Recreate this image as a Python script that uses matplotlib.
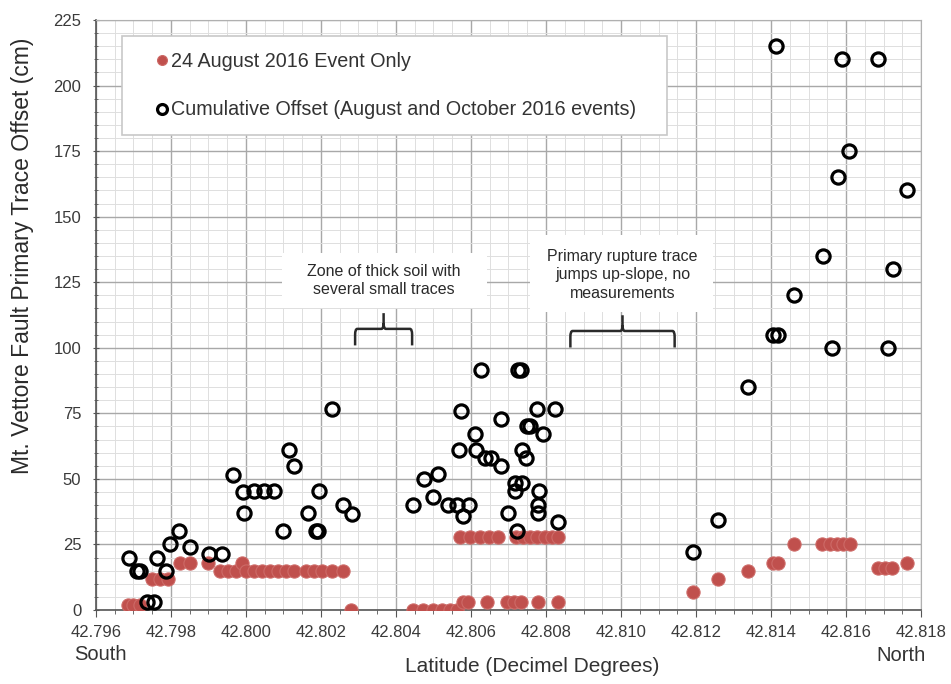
import matplotlib.pyplot as plt
from matplotlib.ticker import MultipleLocator, FormatStrFormatter
from matplotlib.patches import Rectangle, PathPatch
from matplotlib.path import Path

plt.rcParams['font.family'] = ['Liberation Sans', 'DejaVu Sans']

# 24 August 2016 event only (latitude, offset cm)
aug_lat = [42.79685, 42.79700, 42.79718,
           42.79749, 42.79771, 42.79792,
           42.79824, 42.79851, 42.79899,
           42.79931, 42.79952, 42.79973, 42.79989, 42.80000, 42.80021, 42.80043,
           42.80064, 42.80085, 42.80107, 42.80128, 42.80160, 42.80181, 42.80203,
           42.80229, 42.80259, 42.80280,
           42.80445, 42.80472, 42.80499, 42.80523, 42.80544, 42.80563,
           42.80579, 42.80592, 42.80643, 42.80696, 42.80715, 42.80733, 42.80779, 42.80832,
           42.80571, 42.80597, 42.80624, 42.80648, 42.80672, 42.80720, 42.80739,
           42.80757, 42.80776, 42.80797, 42.80816, 42.80832,
           42.81193, 42.81259, 42.81339, 42.81406, 42.81419, 42.81461, 42.81535,
           42.81557, 42.81575, 42.81593, 42.81611, 42.81686, 42.81704, 42.81722, 42.81763]
aug_off = [2, 2, 2,
           12, 12, 12,
           18, 18, 18,
           15, 15, 15, 18, 15, 15, 15,
           15, 15, 15, 15, 15, 15, 15,
           15, 15, 0,
           0, 0, 0, 0, 0, 0,
           3, 3, 3, 3, 3, 3, 3, 3,
           28, 28, 28, 28, 28, 28, 28,
           28, 28, 28, 28, 28,
           7, 12, 15, 18, 18, 25, 25,
           25, 25, 25, 25, 16, 16, 16, 18]

# cumulative offset, August and October 2016 events
cum_lat = [42.79689, 42.79709, 42.79717, 42.79735, 42.79755, 42.79763, 42.79788,
           42.79797, 42.79822, 42.79851, 42.79901, 42.79935, 42.79966, 42.79991,
           42.79995, 42.80021, 42.80048, 42.80075, 42.80098, 42.80114, 42.80129,
           42.80166, 42.80187, 42.80193, 42.80195, 42.80230, 42.80258, 42.80282,
           42.80446, 42.80476, 42.80499, 42.80511, 42.80540, 42.80562, 42.80568,
           42.80573, 42.80579, 42.80595, 42.80611, 42.80613, 42.80627, 42.80637,
           42.80653, 42.80680, 42.80680, 42.80698, 42.80717, 42.80717, 42.80722,
           42.80724, 42.80733, 42.80737, 42.80737, 42.80746, 42.80748, 42.80757,
           42.80775, 42.80778, 42.80778, 42.80781, 42.80793, 42.80824, 42.80833,
           42.81193, 42.81259, 42.81339, 42.81406, 42.81419, 42.81413, 42.81462,
           42.81538, 42.81562, 42.81579, 42.81589, 42.81609, 42.81686, 42.81713,
           42.81724, 42.81763]
cum_off = [20, 15, 15, 3, 3, 20, 15,
           25, 30, 24, 21.5, 21.5, 51.5, 45,
           37, 45.5, 45.5, 45.5, 30, 61, 55,
           37, 30, 30, 45.5, 76.5, 40, 36.5,
           40, 50, 43, 52, 40, 40, 61,
           76, 36, 40, 67, 61, 91.5, 58,
           58, 73, 55, 37, 48.5, 45.5, 30,
           91.5, 91.5, 48.5, 61, 58, 70, 70,
           76.5, 40, 37, 45.5, 67, 76.5, 33.5,
           22, 34.5, 85, 105, 105, 215, 120,
           135, 100, 165, 210, 175, 210, 100,
           130, 160]

# gaps in the measurements along the trace
gap_labels = ['Zone of thick soil with\nseveral small traces',
              'Primary rupture trace\njumps up-slope, no\nmeasurements']
gap_spans = [(42.80291, 42.80443), (42.80865, 42.81143)]
gap_brace_y = [107.2, 106.4]
gap_text_y = [125.6, 127.8]
gap_boxes = [(42.80096, 115.2, 42.80643, 136.2), (42.80757, 113.7, 42.81245, 143.0)]

fig, ax = plt.subplots(figsize=(9.51, 6.84), dpi=100)
fig.subplots_adjust(left=0.1009, right=0.9685, top=0.9708, bottom=0.1082)

ax.plot(aug_lat, aug_off, 'o', color='#c0504d', ms=9.5, mec='#cd6a67', mew=0.8,
        zorder=3, label='24 August 2016 Event Only')
ax.plot(cum_lat, cum_off, 'o', mfc='none', mec='black', ms=9.5, mew=2.3,
        zorder=4, label='Cumulative Offset (August and October 2016 events)')

ax.set_xlim(42.796, 42.818)
ax.set_ylim(0, 225)
ax.xaxis.set_major_locator(MultipleLocator(0.002))
ax.xaxis.set_minor_locator(MultipleLocator(0.0005))
ax.xaxis.set_major_formatter(FormatStrFormatter('%.3f'))
ax.yaxis.set_major_locator(MultipleLocator(25))
ax.yaxis.set_minor_locator(MultipleLocator(5))

ax.set_axisbelow(True)
ax.grid(which='major', color='#a8a8a8', lw=1.0)
ax.grid(which='minor', color='#dedede', lw=0.7)

for s in ['top', 'right']:
    ax.spines[s].set_color('#b0b0b0')
for s in ['left', 'bottom']:
    ax.spines[s].set_color('#555555')
    ax.spines[s].set_linewidth(1.2)

ax.tick_params(axis='both', which='major', labelsize=12, colors='#555555',
               labelcolor='#3a3a3a', length=5)
ax.tick_params(axis='both', which='minor', colors='#555555', length=3)
ax.tick_params(axis='y', which='both', direction='inout', pad=8)
ax.tick_params(axis='x', which='both', direction='out', pad=6)

ax.set_ylabel('Mt. Vettore Fault Primary Trace Offset (cm)', fontsize=16.5, color='#2a2a2a')
ax.yaxis.set_label_coords(-0.075, 0.600)
ax.set_xlabel('Latitude (Decimel Degrees)', fontsize=15, color='#333333')
ax.xaxis.set_label_coords(0.5285, -0.080)

ax.text(-0.026, -0.075, 'South', transform=ax.transAxes, fontsize=14.5,
        color='#333333', ha='left', va='center')
ax.text(1.005, -0.077, 'North', transform=ax.transAxes, fontsize=14.5,
        color='#333333', ha='right', va='center')


def brace(x0, x1, y, drop=6.3, rise=6.0):
    xm = (x0 + x1) / 2
    rx, ry = 0.00006, 2.2
    verts = [(x0, y - drop), (x0, y - ry), (x0, y), (x0 + rx, y), (xm - rx, y),
             (xm, y), (xm, y + ry), (xm, y + rise),
             (x1, y - drop), (x1, y - ry), (x1, y), (x1 - rx, y), (xm + rx, y),
             (xm, y), (xm, y + ry)]
    codes = [Path.MOVETO, Path.LINETO, Path.CURVE3, Path.CURVE3, Path.LINETO,
             Path.CURVE3, Path.CURVE3, Path.LINETO,
             Path.MOVETO, Path.LINETO, Path.CURVE3, Path.CURVE3, Path.LINETO,
             Path.CURVE3, Path.CURVE3]
    ax.add_patch(PathPatch(Path(verts, codes), fill=False, ec='#2a2a2a',
                           lw=1.8, zorder=3))


for label, (x0, x1), by, ty, (bx0, by0, bx1, by1) in zip(gap_labels, gap_spans,
                                                        gap_brace_y, gap_text_y, gap_boxes):
    ax.add_patch(Rectangle((bx0, by0), bx1 - bx0, by1 - by0, fc='white', ec='none', zorder=1))
    brace(x0, x1, by)
    ax.text((x0 + x1) / 2, ty, label, ha='center', va='center', fontsize=11.5,
            color='#2a2a2a', linespacing=1.3, zorder=3)

# legend with a wide frame
ax.add_patch(Rectangle((0.0315, 0.805), 0.6606, 0.168, transform=ax.transAxes,
                       fc='white', ec='#c8c8c8', lw=1.2, zorder=5))
leg = ax.legend(loc='upper left', bbox_to_anchor=(0.0725, 0.946), frameon=False,
                fontsize=14.2, handlelength=0.6, handletextpad=0.17, borderpad=0,
                borderaxespad=0, labelspacing=1.5, markerscale=0.75, labelcolor='#333333')
leg.set_zorder(6)

plt.savefig('out.png', dpi=100)
